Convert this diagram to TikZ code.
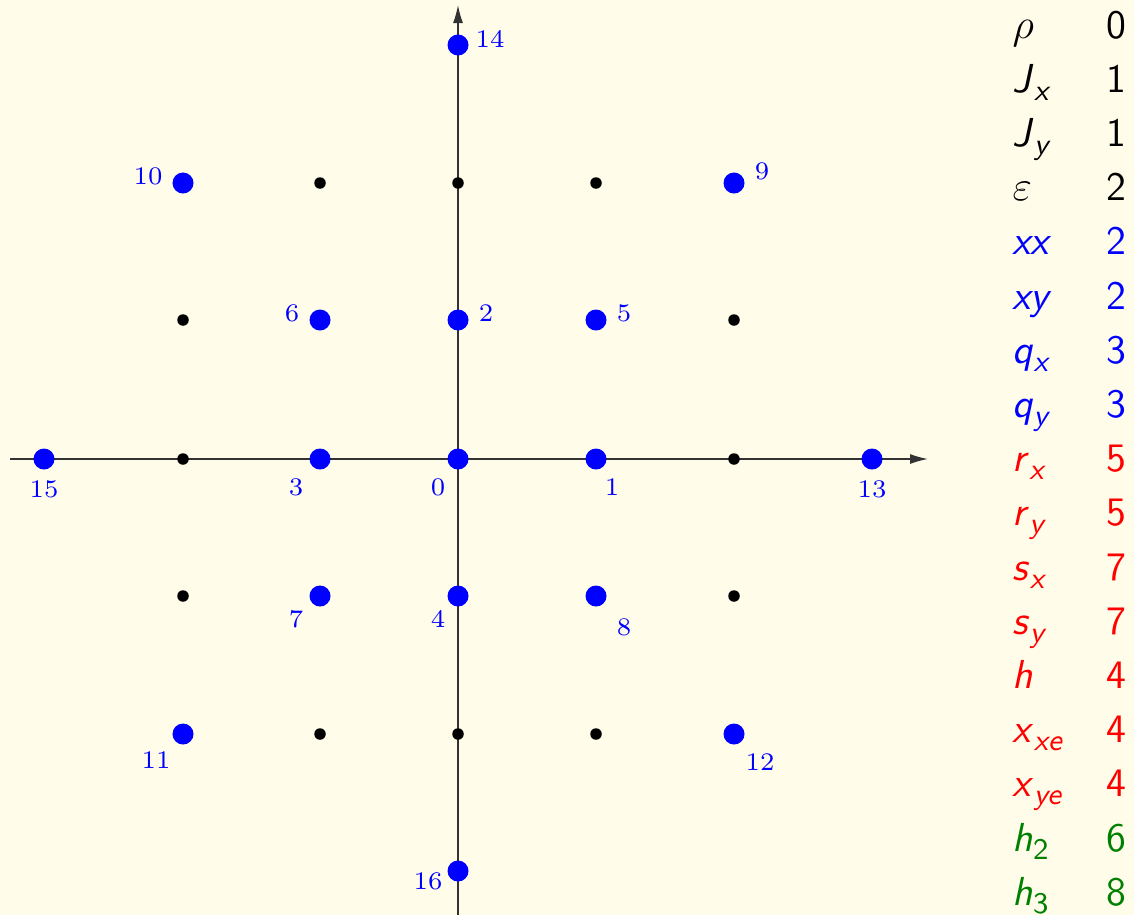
\documentclass[tikz,border=0pt]{standalone}
\usetikzlibrary{arrows.meta}
\definecolor{bgc}{RGB}{255,252,234}
\definecolor{dgreen}{RGB}{0,128,0}
\newcommand\tsym[2]{\textit{#1}\raisebox{-0.2em}{\fontsize{8.5}{10}\selectfont #2}}
\begin{document}
\begin{tikzpicture}[x=0.01cm,y=-0.01cm,
  bdot/.style={circle,fill=blue,inner sep=0pt,minimum size=0.21cm},
  kdot/.style={circle,fill=black,inner sep=0pt,minimum size=0.115cm},
  lab/.style={text=blue,font=\fontsize{7.2}{8}\selectfont,inner sep=0pt},
  axis/.style={draw=black!80,line width=0.4pt,-{Latex[length=0.18cm,width=0.1cm]}},
  tabs/.style={anchor=base west,inner sep=0pt,font=\sffamily\fontsize{11.5}{14}\selectfont},
  tabn/.style={anchor=base east,inner sep=0pt,font=\sffamily\fontsize{11.5}{14}\selectfont}]
\fill[bgc] (0,0) rectangle (1134,915);
\useasboundingbox (0,0) rectangle (1134,915);
% axes
\coordinate (xa) at (10,459);
\coordinate (xb) at (928,459);
\coordinate (ya) at (458,915);
\coordinate (yb) at (458,5);
\draw[axis] (xa) -- (xb);
\draw[axis] (ya) -- (yb);
% black dots
\foreach \i/\x/\y in {a/320/183,b/458/183,c/596/183,d/183/320,e/734/320,f/183/459,g/734/459,h/183/596,i/734/596,j/320/734,k/458/734,l/596/734}
  \node[kdot] (k\i) at (\x,\y) {};
% blue dots
\foreach \n/\x/\y in {0/458/459,1/596/459,2/458/320,3/320/459,4/458/596,5/596/320,6/320/320,7/320/596,8/596/596,9/734/183,10/183/183,11/183/734,12/734/734,13/872/459,14/458/45,15/44/459,16/458/871}
  \node[bdot] (p\n) at (\x,\y) {};
% labels
\foreach \n/\x/\y in {0/438/487,1/612/487,2/486/313,3/296/487,4/438/619,5/624/313,6/292/313,7/296/619,8/624/627,9/762/171,10/148/176,11/156/760,12/760/762,13/872/489,14/490/39,15/44/489,16/428/881}
  \node[lab] (l\n) at (\x,\y) {\n};
% table
\foreach \s/\v/\c [count=\i from 0] in {
  {$\rho$}/0/black,
  {\tsym{J}{\textit{x}}}/1/black,
  {\tsym{J}{\textit{y}}}/1/black,
  {$\varepsilon$}/2/black,
  {\textit{xx}}/2/blue,
  {\textit{xy}}/2/blue,
  {\tsym{q}{\textit{x}}}/3/blue,
  {\tsym{q}{\textit{y}}}/3/blue,
  {\tsym{r}{\textit{x}}}/5/red,
  {\tsym{r}{\textit{y}}}/5/red,
  {\tsym{s}{\textit{x}}}/7/red,
  {\tsym{s}{\textit{y}}}/7/red,
  {\textit{h}}/4/red,
  {\tsym{x}{\textit{xe}}}/4/red,
  {\tsym{x}{\textit{ye}}}/4/red,
  {\tsym{h}{2}}/6/dgreen,
  {\tsym{h}{3}}/8/dgreen}
{
  \node[tabs,text=\c] (s\i) at (1012,{38+54.2*\i}) {\s};
  \node[tabn,text=\c] (v\i) at (1127,{38+54.2*\i}) {\v};
}
\end{tikzpicture}
\end{document}
